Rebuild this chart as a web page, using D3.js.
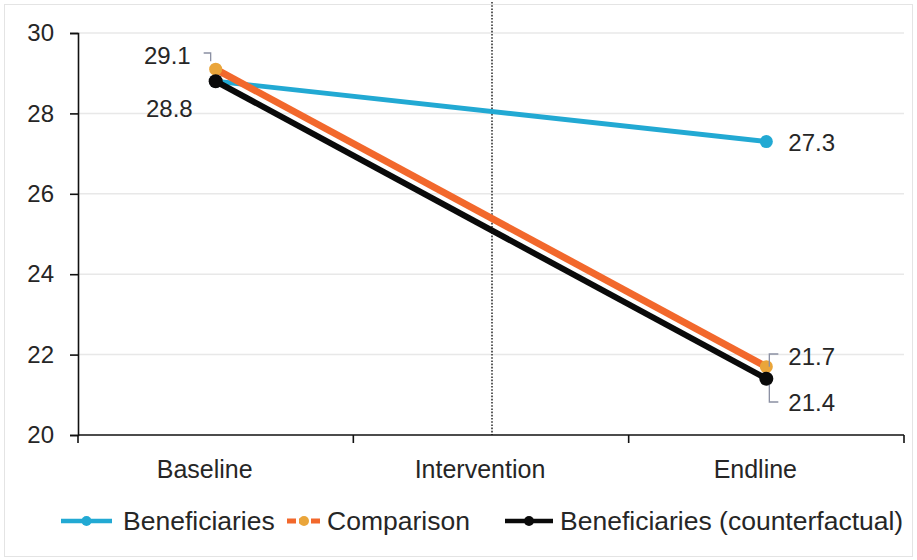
<!DOCTYPE html>
<html>
<head>
<meta charset="utf-8">
<script src="https://cdn.jsdelivr.net/npm/d3@7"></script>
<style>
  html, body { margin: 0; padding: 0; background: #fff; }
  svg text { font-family: "Liberation Sans", Arial, sans-serif; fill: #262626; }
</style>
</head>
<body>
<svg id="chart" width="917" height="560"></svg>
<script>
// Survey rounds on the x axis
const categories = ["Baseline", "Intervention", "Endline"];
// Series values (no measurement at the intervention point)
const beneficiaries = [28.8, null, 27.3];
const comparison = [29.1, null, 21.7];
const counterfactual = [28.8, null, 21.4];
// Y axis ticks
const yTicks = [20, 22, 24, 26, 28, 30];

const series = [
  { name: "Beneficiaries", values: beneficiaries, color: "#22a9d3", marker: "#22a9d3", width: 4.8, r: 6.5 },
  { name: "Comparison", values: comparison, color: "#f2682c", marker: "#eaa53a", width: 7, r: 6.5 },
  { name: "Beneficiaries (counterfactual)", values: counterfactual, color: "#0a0a0a", marker: "#0a0a0a", width: 6, r: 7 }
];

const svg = d3.select("#chart");
const plotLeft = 78, plotRight = 904, plotTop = 33, plotBottom = 435;

// outer frame
svg.append("rect")
  .attr("x", 4.5).attr("y", 4.5).attr("width", 908).attr("height", 552)
  .attr("fill", "none").attr("stroke", "#e4e4e4").attr("stroke-width", 1);

const x = d3.scaleBand().domain(categories).range([plotLeft, plotRight]);
const y = d3.scaleLinear().domain([20, 30]).range([plotBottom, plotTop]);
const cx = c => x(c) + x.bandwidth() / 2;

// horizontal gridlines
svg.append("g").selectAll("line")
  .data(yTicks.filter(t => t > 20))
  .join("line")
  .attr("x1", plotLeft).attr("x2", plotRight)
  .attr("y1", d => y(d)).attr("y2", d => y(d))
  .attr("stroke", "#e8e8e8").attr("stroke-width", 1.5);

// dotted divider at the intervention
svg.append("line")
  .attr("x1", cx("Intervention") + 1).attr("x2", cx("Intervention") + 1)
  .attr("y1", 2).attr("y2", plotBottom)
  .attr("stroke", "#333").attr("stroke-width", 1.6)
  .attr("stroke-dasharray", "1.6,1.6");

// y axis
const yAxis = svg.append("g")
  .attr("transform", `translate(${plotLeft},0)`)
  .call(d3.axisLeft(y).tickValues(yTicks).tickSize(8).tickPadding(16).tickFormat(d3.format("d")));
yAxis.select(".domain").attr("stroke", "#111").attr("stroke-width", 1.6);
yAxis.selectAll(".tick line").attr("stroke", "#111").attr("stroke-width", 1.6);
yAxis.selectAll(".tick text").attr("font-size", 24).attr("fill", "#262626")
  .style("font-family", "'Liberation Sans', Arial, sans-serif");

// x axis: ticks at band boundaries
const xAxisG = svg.append("g");
xAxisG.append("line")
  .attr("x1", plotLeft).attr("x2", plotRight).attr("y1", plotBottom).attr("y2", plotBottom)
  .attr("stroke", "#111").attr("stroke-width", 1.6);
const bounds = categories.map(c => x(c)).concat([plotRight]);
xAxisG.selectAll("line.tk").data(bounds).join("line").attr("class", "tk")
  .attr("x1", d => d).attr("x2", d => d).attr("y1", plotBottom).attr("y2", plotBottom + 8)
  .attr("stroke", "#111").attr("stroke-width", 1.6);
xAxisG.selectAll("text").data(categories).join("text")
  .attr("x", d => cx(d)).attr("dx", -11).attr("y", 478)
  .attr("text-anchor", "middle").attr("font-size", 25)
  .text(d => d);

// lines and markers
const line = d3.line()
  .defined(d => d.v != null)
  .x(d => cx(d.c)).y(d => y(d.v));

series.forEach(s => {
  const pts = categories.map((c, i) => ({ c, v: s.values[i] })).filter(d => d.v != null);
  svg.append("path")
    .datum(pts)
    .attr("d", line)
    .attr("fill", "none").attr("stroke", s.color).attr("stroke-width", s.width)
    .attr("stroke-linejoin", "round");
  svg.append("g").selectAll("circle").data(pts).join("circle")
    .attr("cx", d => cx(d.c)).attr("cy", d => y(d.v)).attr("r", s.r)
    .attr("fill", s.marker);
});

// data labels with leader lines
const lead = "#8b90a3";
const bx = cx("Baseline"), ex = cx("Endline");
const fmt = d3.format(".1f");

function label(text, lx, ly, anchor) {
  svg.append("text").attr("x", lx).attr("y", ly).attr("dy", "0.35em")
    .attr("text-anchor", anchor).attr("font-size", 24).text(text);
}
label(fmt(comparison[0]), bx - 25, 56, "end");
label(fmt(counterfactual[0]), bx - 23, 109, "end");
label(fmt(beneficiaries[2]), ex + 22, 143, "start");
label(fmt(comparison[2]), ex + 22, 357, "start");
label(fmt(counterfactual[2]), ex + 22, 403, "start");

svg.append("path")
  .attr("d", `M${bx - 12},53 H${bx - 5} V${y(comparison[0]) - 8}`)
  .attr("fill", "none").attr("stroke", lead).attr("stroke-width", 1.3);
svg.append("path")
  .attr("d", `M${ex + 12},354 H${ex + 3} V${y(comparison[2])}`)
  .attr("fill", "none").attr("stroke", lead).attr("stroke-width", 1.3);
svg.append("path")
  .attr("d", `M${ex + 12},402 H${ex + 3} V${y(counterfactual[2]) + 6}`)
  .attr("fill", "none").attr("stroke", lead).attr("stroke-width", 1.3);

// legend
const legendItems = [
  { s: series[0], x0: 61, x1: 112, tx: 123 },
  { s: series[1], x0: 287, x1: 321, tx: 327 },
  { s: series[2], x0: 505, x1: 553, tx: 560 }
];
const legendY = 521;
legendItems.forEach(it => {
  const g = svg.append("g");
  g.append("line").attr("x1", it.x0).attr("x2", it.x1).attr("y1", legendY).attr("y2", legendY)
    .attr("stroke", it.s.color).attr("stroke-width", it.s === series[1] ? 5 : 4.5)
    .attr("stroke-dasharray", it.s === series[1] ? "9,3" : null);
  g.append("circle").attr("cx", (it.x0 + it.x1) / 2).attr("cy", legendY).attr("r", 5)
    .attr("fill", it.s.marker);
  g.append("text").attr("x", it.tx).attr("y", legendY).attr("dy", "0.35em")
    .attr("font-size", 26.5).text(it.s.name);
});
</script>
</body>
</html>
